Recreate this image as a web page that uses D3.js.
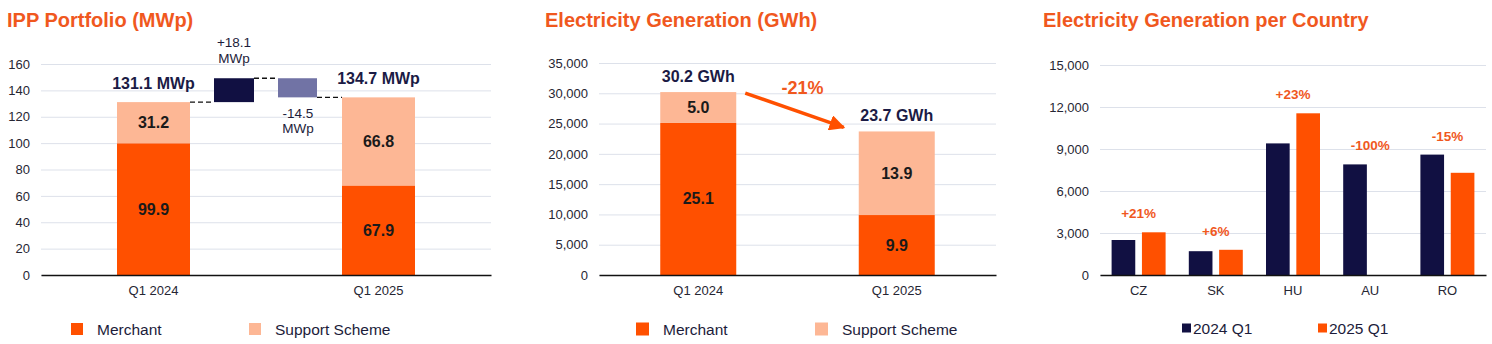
<!DOCTYPE html>
<html lang="en">
<head>
    <meta charset="UTF-8">
    <title>IPP Portfolio and Electricity Generation</title>
    <script src="https://d3js.org/d3.v7.min.js"></script>
    <style>
        body{ margin:0; background:#fff; }
        svg{ display:block; font-family:"Liberation Sans", Arial, sans-serif; }
        .tick line{ stroke:#dde1ea; }
        .tick text{ fill:#262633; font-size:13px; }
        .title{ fill:#f0581e; font-size:20px; font-weight:bold; }
    </style>
</head>
<body>
<svg width="1492" height="344"></svg>
<script>
    // ---- data ----
    let periods = ["Q1 2024", "Q1 2025"];

    // IPP portfolio, MWp
    let ippMerchant = [99.9, 67.9];
    let ippSupport = [31.2, 66.8];
    let ippAdded = 18.1;
    let ippRemoved = 14.5;
    let ippTicks = [0, 20, 40, 60, 80, 100, 120, 140, 160];

    // electricity generation, GWh (axis drawn in MWh)
    let genMerchant = [25.1, 9.9];
    let genSupport = [5.0, 13.9];
    let genTotals = [30.2, 23.7];
    let genChange = "-21%";
    let genTicks = [0, 5000, 10000, 15000, 20000, 25000, 30000, 35000];

    // generation per country, MWh
    let countries = ["CZ", "SK", "HU", "AU", "RO"];
    let gen2024 = [2500, 1700, 9400, 7900, 8600];
    let gen2025 = [3050, 1800, 11550, 0, 7300];
    let countryChange = ["+21%", "+6%", "+23%", "-100%", "-15%"];
    let countryTicks = [0, 3000, 6000, 9000, 12000, 15000];

    let orange = "#ff5000", peach = "#fdb795", navy = "#111042", lavender = "#7173a5";
    let svg = d3.select("svg");
    let base = 275;

    function grid(y, ticks, x0, x1, fmt) {
        let g = svg.append("g")
            .attr("transform", "translate(" + x0 + ",0)")
            .call(d3.axisLeft(y).tickValues(ticks).tickSize(-(x1 - x0)).tickPadding(11).tickFormat(fmt));
        g.select(".domain").remove();
        g.selectAll(".tick line").attr("stroke", "#dde1ea");
    }

    function xAxis(x) {
        let g = svg.append("g")
            .attr("transform", "translate(0," + base + ")")
            .call(d3.axisBottom(x).tickSize(0).tickPadding(11));
        g.select(".domain").attr("stroke", "#111").attr("stroke-width", 1.5);
    }

    function legend(items, y, size, gap) {
        items.forEach(function (it) {
            svg.append("rect").attr("x", it.x).attr("y", y - size / 2).attr("width", size).attr("height", size).attr("fill", it.c);
            svg.append("text").attr("x", it.x + size + gap).attr("y", y + 5.5)
                .attr("font-size", "15.5px").attr("fill", "#1c1c3a").text(it.t);
        });
    }

    function label(x, y, t, size, weight, color) {
        return svg.append("text").attr("x", x).attr("y", y).attr("text-anchor", "middle")
            .attr("font-size", size + "px").attr("font-weight", weight).attr("fill", color).text(t);
    }

    // ================= panel 1: IPP portfolio =================
    svg.append("text").attr("class", "title").attr("x", 7).attr("y", 27).text("IPP Portfolio (MWp)");
    let y1 = d3.scaleLinear().domain([0, 160]).range([base, 64]);
    let x1 = d3.scaleBand().domain(periods).range([41, 491]);
    grid(y1, ippTicks, 41, 491, d3.format("d"));
    let bw1 = 73;

    periods.forEach(function (p, i) {
        let cx = x1(p) + x1.bandwidth() / 2;
        let m = ippMerchant[i], s = ippSupport[i];
        svg.append("rect").attr("x", cx - bw1 / 2).attr("width", bw1)
            .attr("y", y1(m)).attr("height", y1(0) - y1(m)).attr("fill", orange);
        svg.append("rect").attr("x", cx - bw1 / 2).attr("width", bw1)
            .attr("y", y1(m + s)).attr("height", y1(m) - y1(m + s)).attr("fill", peach);
        label(cx, (y1(0) + y1(m)) / 2 + 5.5, m.toFixed(1), 16, "bold", "#1a1a1a");
        label(cx, (y1(m) + y1(m + s)) / 2 + 5.5, s.toFixed(1), 16, "bold", "#1a1a1a");
        label(cx, y1(m + s) - 13, (m + s).toFixed(1) + " MWp", 16, "bold", "#1b1b45");
    });

    // waterfall steps between the two totals
    let tot0 = ippMerchant[0] + ippSupport[0];
    let peak = tot0 + ippAdded;
    let tot1 = peak - ippRemoved;
    let mid = (x1(periods[0]) + x1(periods[1]) + x1.bandwidth()) / 2;
    let incX = mid - 52, decX = mid + 12, stepW = 40;
    svg.append("rect").attr("x", incX).attr("width", stepW)
        .attr("y", y1(peak)).attr("height", y1(tot0) - y1(peak)).attr("fill", navy);
    svg.append("rect").attr("x", decX).attr("width", stepW - 1)
        .attr("y", y1(peak)).attr("height", y1(tot1) - y1(peak)).attr("fill", lavender);
    let bar0Right = x1(periods[0]) + x1.bandwidth() / 2 + bw1 / 2;
    let bar1Left = x1(periods[1]) + x1.bandwidth() / 2 - bw1 / 2;
    [[bar0Right, incX, tot0], [incX + stepW, decX, peak], [decX + stepW - 1, bar1Left, tot1]].forEach(function (d) {
        svg.append("line").attr("x1", d[0]).attr("x2", d[1]).attr("y1", y1(d[2])).attr("y2", y1(d[2]))
            .attr("stroke", "#111").attr("stroke-width", 1.3).attr("stroke-dasharray", "5,3");
    });
    label(incX + stepW / 2, y1(peak) - 31, "+" + ippAdded.toFixed(1), 13.5, "normal", "#1c1c3a");
    label(incX + stepW / 2, y1(peak) - 15, "MWp", 13.5, "normal", "#1c1c3a");
    label(decX + stepW / 2, y1(tot1) + 21, "-" + ippRemoved.toFixed(1), 13.5, "normal", "#1c1c3a");
    label(decX + stepW / 2, y1(tot1) + 36, "MWp", 13.5, "normal", "#1c1c3a");
    xAxis(x1);
    legend([{x: 71, c: orange, t: "Merchant"}, {x: 249, c: peach, t: "Support Scheme"}], 329, 12, 14);

    // ================= panel 2: electricity generation =================
    svg.append("text").attr("class", "title").attr("x", 545).attr("y", 27).text("Electricity Generation (GWh)");
    let y2 = d3.scaleLinear().domain([0, 35000]).range([base, 63]);
    let x2 = d3.scaleBand().domain(periods).range([599, 996]);
    grid(y2, genTicks, 599, 996, d3.format(","));
    let bw2 = 76;

    periods.forEach(function (p, i) {
        let cx = x2(p) + x2.bandwidth() / 2;
        let m = genMerchant[i] * 1000, t = genTotals[i] * 1000;
        svg.append("rect").attr("x", cx - bw2 / 2).attr("width", bw2)
            .attr("y", y2(m)).attr("height", y2(0) - y2(m)).attr("fill", orange);
        svg.append("rect").attr("x", cx - bw2 / 2).attr("width", bw2)
            .attr("y", y2(t)).attr("height", y2(m) - y2(t)).attr("fill", peach);
        label(cx, (y2(0) + y2(m)) / 2 + 5.5, genMerchant[i].toFixed(1), 16, "bold", "#1a1a1a");
        label(cx, (y2(m) + y2(t)) / 2 + 5.5, genSupport[i].toFixed(1), 16, "bold", "#1a1a1a");
        label(cx, y2(t) - 10, genTotals[i].toFixed(1) + " GWh", 16, "bold", "#1b1b45");
    });

    svg.append("defs").append("marker").attr("id", "arrow")
        .attr("viewBox", "0 0 10 10").attr("refX", 9).attr("refY", 5)
        .attr("markerWidth", 4.5).attr("markerHeight", 4.5).attr("orient", "auto")
        .append("path").attr("d", "M0,0 L10,5 L0,10 z").attr("fill", orange);
    let ax0 = x2(periods[0]) + x2.bandwidth() / 2 + bw2 / 2 + 9;
    let ax1 = x2(periods[1]) + x2.bandwidth() / 2 - bw2 / 2 - 15;
    let ay0 = y2(genTotals[0] * 1000) + 1, ay1 = y2(genTotals[1] * 1000) - 4;
    svg.append("line").attr("x1", ax0).attr("y1", ay0).attr("x2", ax1).attr("y2", ay1)
        .attr("stroke", orange).attr("stroke-width", 3.5).attr("marker-end", "url(#arrow)");
    label((ax0 + ax1) / 2 + 8, ay0 + 1, genChange, 18, "bold", "#f0581e");
    xAxis(x2);
    legend([{x: 636, c: orange, t: "Merchant"}, {x: 815, c: peach, t: "Support Scheme"}], 329, 13, 14);

    // ================= panel 3: per country =================
    svg.append("text").attr("class", "title").attr("x", 1043).attr("y", 27).text("Electricity Generation per Country");
    let y3 = d3.scaleLinear().domain([0, 15000]).range([base, 65]);
    let x3 = d3.scaleBand().domain(countries).range([1100, 1486]);
    let xin = d3.scaleBand().domain(["2024", "2025"]).range([-27, 27]).paddingInner(0.22);
    grid(y3, countryTicks, 1100, 1486, d3.format(","));

    countries.forEach(function (c, i) {
        let cx = x3(c) + x3.bandwidth() / 2;
        [["2024", gen2024[i], navy], ["2025", gen2025[i], orange]].forEach(function (d) {
            if (d[1] <= 0) return;
            svg.append("rect").attr("x", cx + xin(d[0])).attr("width", xin.bandwidth())
                .attr("y", y3(d[1])).attr("height", y3(0) - y3(d[1])).attr("fill", d[2]);
        });
        let top = y3(Math.max(gen2024[i], gen2025[i]));
        label(cx, top - 14, countryChange[i], 13.5, "bold", "#f0581e");
    });
    xAxis(x3);
    legend([{x: 1182, c: navy, t: "2024 Q1"}, {x: 1318, c: orange, t: "2025 Q1"}], 328, 9, 2);
</script>
</body>
</html>
